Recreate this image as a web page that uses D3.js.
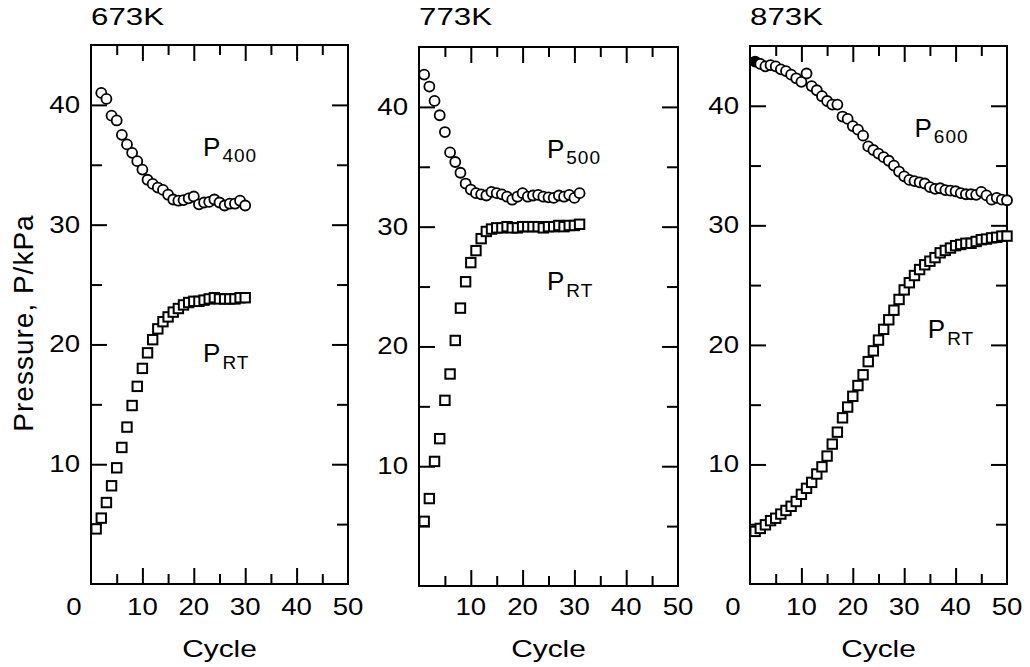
<!DOCTYPE html>
<html>
<head>
<meta charset="utf-8">
<script src="https://cdn.jsdelivr.net/npm/d3@7"></script>
<style>
  body { margin: 0; background: #fff; }
  svg text { font-family: "Liberation Sans", Arial, sans-serif; fill: #000; }
</style>
</head>
<body>
<div id="canvas"></div>
<script>
// Pressure (kPa) against cycle number
const cyclesP400 = [2, 3, 4, 5, 6, 7, 8, 9, 10, 11, 12, 13, 14, 15, 16, 17, 18, 19, 20,
    21, 22, 23, 24, 25, 26, 27, 28, 29, 30];
const valuesP400 = [41.0, 40.5, 39.1, 38.7, 37.5, 36.7, 36.0, 35.3, 34.6, 33.75, 33.4, 33.1,
    32.9, 32.5, 32.1, 32.0, 32.05, 32.2, 32.35, 31.7, 31.85, 31.9, 32.1, 31.85, 31.6, 31.75,
    31.75, 32.0, 31.6];
const cyclesRT673 = [1, 2, 3, 4, 5, 6, 7, 8, 9, 10, 11, 12, 13, 14, 15, 16, 17, 18, 19, 20,
    21, 22, 23, 24, 25, 26, 27, 28, 29, 30];
const valuesRT673 = [4.6, 5.5, 6.8, 8.2, 9.7, 11.4, 13.1, 14.9, 16.5, 18.0, 19.3, 20.4, 21.3,
    21.9, 22.3, 22.7, 23.0, 23.3, 23.5, 23.6, 23.6, 23.7, 23.8, 23.9, 23.8, 23.8, 23.8, 23.8,
    23.9, 23.9];

const cyclesP500 = [1, 2, 3, 4, 5, 6, 7, 8, 9, 10, 11, 12, 13, 14, 15, 16, 17, 18, 19, 20,
    21, 22, 23, 24, 25, 26, 27, 28, 29, 30, 31];
const valuesP500 = [42.7, 41.7, 40.5, 39.3, 37.9, 36.2, 35.4, 34.5, 33.6, 33.1, 32.8, 32.7,
    32.6, 32.9, 32.8, 32.7, 32.5, 32.25, 32.5, 32.8, 32.5, 32.6, 32.65, 32.5, 32.45, 32.4,
    32.6, 32.5, 32.65, 32.4, 32.8];
const cyclesRT773 = cyclesP500;
const valuesRT773 = [5.4, 7.3, 10.4, 12.3, 15.5, 17.7, 20.5, 23.2, 25.4, 27.0, 28.0, 29.0,
    29.6, 29.8, 29.9, 29.9, 30.0, 29.9, 29.9, 30.0, 30.0, 30.0, 30.0, 29.9, 30.0, 30.0, 30.1,
    30.0, 30.1, 30.1, 30.2];

const cyclesP600 = [1, 2, 3, 4, 5, 6, 7, 8, 9, 10, 11, 12, 13, 14, 15, 16, 17, 18, 19, 20,
    21, 22, 23, 24, 25, 26, 27, 28, 29, 30, 31, 32, 33, 34, 35, 36, 37, 38, 39, 40,
    41, 42, 43, 44, 45, 46, 47, 48, 49, 50];
const valuesP600 = [43.7, 43.5, 43.3, 43.4, 43.3, 43.05, 42.9, 42.6, 42.3, 42.0, 42.7, 41.65,
    41.3, 40.8, 40.4, 40.1, 40.1, 39.1, 38.9, 38.3, 38.0, 37.5, 36.6, 36.3, 36.0, 35.7, 35.4,
    35.0, 34.5, 34.1, 33.8, 33.7, 33.6, 33.5, 33.2, 33.05, 33.1, 32.95, 32.9, 32.85, 32.7,
    32.6, 32.6, 32.55, 32.8, 32.5, 32.15, 32.3, 32.15, 32.1];
const cyclesRT873 = cyclesP600;
const valuesRT873 = [4.4, 4.65, 4.95, 5.3, 5.5, 5.85, 6.15, 6.5, 6.9, 7.5, 8.0, 8.5, 9.2, 9.8,
    10.7, 11.7, 12.7, 13.9, 14.8, 15.7, 16.6, 17.5, 18.6, 19.5, 20.4, 21.3, 22.1, 22.9, 23.8,
    24.6, 25.2, 25.8, 26.3, 26.7, 27.0, 27.3, 27.7, 27.9, 28.1, 28.3, 28.4, 28.5, 28.5, 28.65,
    28.8, 28.85, 28.95, 29.0, 29.1, 29.1];

const xMajor = [10, 20, 30, 40];
const xMinor = [5, 15, 25, 35, 45];
const yMajor = [10, 20, 30, 40];
const yMinor = [5, 15, 25, 35];
const yTickLabels = [10, 20, 30, 40];
const xTickLabelsA = [0, 10, 20, 30, 40, 50];
const xTickLabelsB = [10, 20, 30, 40, 50];

const panels = [
    { title: "673K", left: 91, top: 45, width: 257, height: 539,
      hot: [cyclesP400, valuesP400], rt: [cyclesRT673, valuesRT673],
      hotSub: "400", hotAt: [21.8, 35.7], rtAt: [21.8, 18.55], xLabels: xTickLabelsA },
    { title: "773K", left: 419, top: 47, width: 259, height: 539,
      hot: [cyclesP500, valuesP500], rt: [cyclesRT773, valuesRT773],
      hotSub: "500", hotAt: [24.7, 35.75], rtAt: [24.7, 24.7], xLabels: xTickLabelsB },
    { title: "873K", left: 750, top: 46, width: 257, height: 538,
      hot: [cyclesP600, valuesP600], rt: [cyclesRT873, valuesRT873],
      hotSub: "600", hotAt: [32.0, 37.4], rtAt: [34.6, 20.6], xLabels: xTickLabelsA,
      firstFilled: true }
];

function wideText(parent, x, y, txt, size, sx, anchor) {
    return parent.append("text")
        .attr("transform", "translate(" + x + "," + y + ") scale(" + sx + ",1)")
        .style("font-size", size + "px")
        .style("text-anchor", anchor)
        .text(txt);
}

function drawPanel(svg, p) {
    let x = d3.scaleLinear().domain([0, 50]).range([p.left, p.left + p.width]);
    let y = d3.scaleLinear().domain([0, 45]).range([p.top + p.height, p.top]);
    let g = svg.append("g");

    // ticks point inwards on all four sides
    [[xMajor, 16], [xMinor, 10]].forEach(([vals, len]) => {
        g.append("g").attr("transform", "translate(0," + y(0) + ")")
            .call(d3.axisBottom(x).tickValues(vals).tickSize(-len).tickFormat(""));
        g.append("g").attr("transform", "translate(0," + y(45) + ")")
            .call(d3.axisTop(x).tickValues(vals).tickSize(-len).tickFormat(""));
    });
    [[yMajor, 16], [yMinor, 11]].forEach(([vals, len]) => {
        g.append("g").attr("transform", "translate(" + x(0) + ",0)")
            .call(d3.axisLeft(y).tickValues(vals).tickSize(-len).tickFormat(""));
        g.append("g").attr("transform", "translate(" + x(50) + ",0)")
            .call(d3.axisRight(y).tickValues(vals).tickSize(-len).tickFormat(""));
    });
    g.selectAll(".domain").remove();
    g.selectAll(".tick line").attr("stroke", "#000").attr("stroke-width", 2);

    g.append("rect")
        .attr("x", x(0)).attr("y", y(45))
        .attr("width", x(50) - x(0)).attr("height", y(0) - y(45))
        .attr("fill", "none").attr("stroke", "#000").attr("stroke-width", 2);

    // tick labels
    p.xLabels.forEach(v => {
        let shift = v === 0 ? -17 : 0;
        wideText(g, x(v) + shift, 615, v, 23, 1.2, "middle");
    });
    yTickLabels.forEach(v => {
        wideText(g, x(0) - 11, y(v) + 8, v, 23, 1.2, "end");
    });
    wideText(g, p.left, 25, p.title, 23.5, 1.33, "start");
    wideText(g, (x(0) + x(50)) / 2, 657, "Cycle", 23, 1.3, "middle");

    // room-temperature pressure: squares
    g.append("g").selectAll("rect")
        .data(d3.zip(p.rt[0], p.rt[1]))
        .join("rect")
        .attr("x", d => x(d[0]) - 4.7)
        .attr("y", d => y(d[1]) - 4.7)
        .attr("width", 9.4).attr("height", 9.4)
        .attr("fill", "#fff").attr("stroke", "#000").attr("stroke-width", 2);

    // hot-zone pressure: circles
    g.append("g").selectAll("circle")
        .data(d3.zip(p.hot[0], p.hot[1]))
        .join("circle")
        .attr("cx", d => x(d[0]))
        .attr("cy", d => y(d[1]))
        .attr("r", 5)
        .attr("fill", (d, i) => (p.firstFilled && i === 0) ? "#000" : "#fff")
        .attr("stroke", "#000").attr("stroke-width", 1.8);

    let hotLab = g.append("text")
        .attr("x", x(p.hotAt[0])).attr("y", y(p.hotAt[1]))
        .style("font-size", "26px");
    hotLab.append("tspan").text("P");
    hotLab.append("tspan").attr("dx", 2).attr("dy", 6)
        .style("font-size", "19px").style("letter-spacing", "1px").text(p.hotSub);

    let rtLab = g.append("text")
        .attr("x", x(p.rtAt[0])).attr("y", y(p.rtAt[1]))
        .style("font-size", "26px");
    rtLab.append("tspan").text("P");
    rtLab.append("tspan").attr("dx", 2).attr("dy", 7)
        .style("font-size", "19px").style("letter-spacing", "1px").text("RT");
}

function init() {
    let svg = d3.select("#canvas")
        .append("svg")
        .attr("width", 1030)
        .attr("height", 667);

    panels.forEach(p => drawPanel(svg, p));

    svg.append("text")
        .attr("transform", "translate(33,323) rotate(-90)")
        .style("font-size", "28px")
        .style("letter-spacing", "1px")
        .style("text-anchor", "middle")
        .text("Pressure, P/kPa");
}

init();
</script>
</body>
</html>
